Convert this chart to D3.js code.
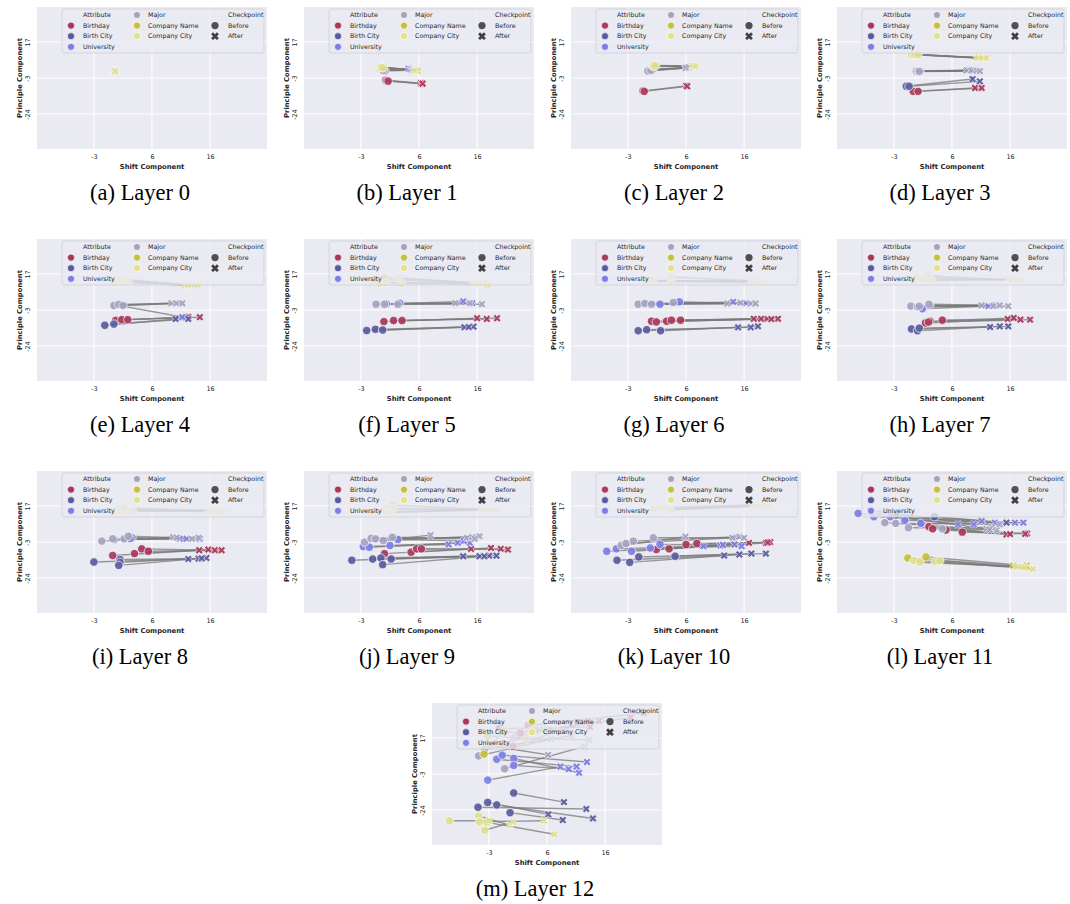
<!DOCTYPE html>
<html>
<head>
<meta charset="utf-8">
<script src="https://cdn.jsdelivr.net/npm/d3@7"></script>
<style>
body { margin: 0; background: #fff; }
svg text { font-family: "DejaVu Sans", sans-serif; fill: #262626; }
.caption { font-family: "Liberation Serif", "Times New Roman", serif; font-size: 22.5px; fill: #000; }
</style>
</head>
<body>
<svg id="fig" width="1070" height="904"></svg>
<script>

// categories
var attributes = ["Birthday", "Birth City", "University", "Major", "Company Name", "Company City"];
var checkpoints = ["Before", "After"];

// tick labels (the axis ticks sit at rounded-off values)
var xTickValues = [-3.2, 6.4, 16.0];
var xTickLabels = ["-3", "6", "16"];
var yTickValues = [17.2, -3.3, -23.8];
var yTickLabels = ["17", "-3", "-24"];
var xDomain = [-12.6, 25.4];
var yDomain = [-43.7, 37.1];

var captions = ["(a) Layer 0", "(b) Layer 1", "(c) Layer 2", "(d) Layer 3", "(e) Layer 4", "(f) Layer 5",
  "(g) Layer 6", "(h) Layer 7", "(i) Layer 8", "(j) Layer 9", "(k) Layer 10", "(l) Layer 11", "(m) Layer 12"];

// each row: attribute, before x, before y, after x, after y
var layer0 = [
  ["Birthday", 0.3, 0.5, 0.3, 0.5], ["Birth City", 0.3, 0.5, 0.3, 0.5], ["University", 0.3, 0.5, 0.3, 0.5],
  ["Major", 0.3, 0.5, 0.3, 0.5], ["Company Name", 0.3, 0.5, 0.3, 0.5], ["Company City", 0.3, 0.5, 0.3, 0.5]
];
var layer1 = [
  ["Birthday", 0.9, -4.6, 6.7, -6.3], ["Birthday", 1.1, -4.9, 6.9, -6.6], ["Birthday", 1.3, -5.1, 7.0, -6.5],
  ["Birth City", 0.3, 1.5, 5.0, 1.6],
  ["University", 0.1, 1.8, 4.7, 2.0], ["University", 0.4, 1.2, 5.0, 1.5],
  ["Major", 0.8, 0.6, 5.2, 1.4], ["Major", 0.5, 1.0, 5.5, 1.0],
  ["Company Name", 0.2, 2.8, 5.9, 1.1], ["Company Name", 0.5, 2.5, 6.1, 0.9],
  ["Company City", 0.0, 3.0, 5.8, 1.2], ["Company City", 0.3, 2.6, 5.6, 1.0]
];
var layer2 = [
  ["Birthday", -0.7, -10.7, 6.4, -7.8], ["Birthday", -0.5, -10.9, 6.6, -8.0],
  ["Birth City", 0.6, 1.5, 6.5, 2.6],
  ["University", 0.4, 1.2, 6.3, 2.4], ["University", 0.9, 1.6, 6.8, 2.9],
  ["Major", 0.1, 0.7, 6.4, 2.4], ["Major", 0.6, 1.0, 6.9, 2.7],
  ["Company Name", 1.0, 3.2, 7.4, 3.5], ["Company Name", 1.4, 3.6, 7.8, 3.3],
  ["Company City", 0.9, 3.5, 7.6, 3.5], ["Company City", 1.2, 3.8, 8.0, 3.6]
];
var layer3 = [
  ["Birthday", 0.0, -10.9, 10.2, -9.0], ["Birthday", 0.8, -10.9, 11.3, -9.0],
  ["Birth City", -1.15, -8.0, 9.8, -3.9], ["Birth City", -0.7, -8.0, 11.0, -5.2],
  ["University", 0.6, 0.7, 9.2, 1.2], ["University", 0.9, 0.5, 10.0, 1.0],
  ["Major", 0.5, 0.5, 8.8, 1.0], ["Major", 1.1, 0.5, 9.6, 1.0], ["Major", 0.8, 0.6, 10.5, 0.8], ["Major", 1.0, 0.4, 11.0, 0.6],
  ["Company Name", 0.0, 10.2, 10.8, 8.3], ["Company Name", 0.5, 10.1, 11.6, 8.0],
  ["Company City", -0.3, 10.0, 10.5, 8.1], ["Company City", 0.2, 10.0, 11.3, 8.1], ["Company City", 0.8, 10.0, 12.1, 8.1]
];
var layer4 = [
  ["Birthday", 0.4, -9.2, 12.4, -7.2], ["Birthday", 1.4, -8.8, 14.3, -7.4], ["Birthday", 2.4, -8.8, 12.0, -7.6],
  ["Birth City", -1.4, -12.0, 10.3, -8.4], ["Birth City", 0.1, -11.3, 12.4, -8.4],
  ["University", 0.4, -0.4, 11.4, -7.3],
  ["Major", 0.1, -0.7, 9.6, 0.5], ["Major", 0.9, -0.1, 10.4, 0.5], ["Major", 1.6, -0.7, 11.4, 0.5],
  ["Company Name", 1.2, 13.0, 12.5, 11.0],
  ["Company City", 0.3, 12.4, 11.8, 10.9], ["Company City", 1.5, 13.7, 12.9, 10.9],
  ["Company City", 2.4, 12.8, 14.0, 10.9], ["Company City", 1.0, 14.3, 12.4, 11.0]
];
var layer5 = [
  ["Birthday", 0.6, -9.9, 16.0, -8.0], ["Birthday", 2.2, -9.3, 17.6, -8.4], ["Birthday", 3.6, -9.3, 19.3, -8.0],
  ["Birth City", -2.25, -15.0, 13.9, -13.1], ["Birth City", -0.8, -14.3, 15.4, -12.8], ["Birth City", 0.4, -14.7, 14.6, -13.0],
  ["University", 1.0, 0.2, 13.7, 1.6], ["University", 3.2, 0.6, 15.2, 0.6],
  ["Major", -0.7, 0.0, 12.4, 0.6], ["Major", 0.7, 0.0, 14.8, 0.6], ["Major", 2.9, 0.0, 16.8, 0.0],
  ["Company Name", 0.7, 14.9, 17.1, 12.0], ["Company Name", -0.7, 14.0, 16.0, 12.2],
  ["Company City", -0.1, 12.0, 15.2, 12.0], ["Company City", 1.0, 12.4, 16.3, 12.0],
  ["Company City", 3.5, 12.0, 17.7, 11.1], ["Company City", 2.9, 14.9, 16.8, 12.0]
];
var layer6 = [
  ["Birthday", 0.7, -9.7, 17.6, -8.3], ["Birthday", 1.5, -10.1, 19.8, -8.3], ["Birthday", 3.2, -9.7, 21.6, -8.3],
  ["Birthday", 4.0, -9.1, 18.8, -8.3], ["Birthday", 5.5, -9.1, 20.5, -8.5],
  ["Birth City", -1.5, -15.1, 15.0, -13.2], ["Birth City", -0.1, -14.5, 17.1, -13.2], ["Birth City", 2.2, -15.1, 18.3, -12.6],
  ["University", 2.1, 0.0, 14.2, 1.35], ["University", 5.3, 1.35, 16.3, 0.6],
  ["Major", -1.5, 0.0, 13.2, 0.4], ["Major", -0.4, 0.4, 15.4, 0.8], ["Major", 0.7, 0.0, 17.1, 0.4], ["Major", 4.3, 1.0, 17.9, 0.4],
  ["Company Name", 0.5, 13.2, 18.0, 13.0],
  ["Company City", 0.0, 12.9, 17.1, 13.5], ["Company City", 0.9, 13.5, 18.2, 12.9],
  ["Company City", 4.0, 12.9, 19.4, 12.2], ["Company City", 3.8, 15.5, 17.6, 13.2]
];
var layer7 = [
  ["Birthday", 2.0, -10.7, 15.6, -8.4], ["Birthday", 2.75, -9.7, 16.6, -7.8], ["Birthday", 4.8, -9.1, 17.7, -8.8], ["Birthday", 2.5, -10.2, 19.3, -8.8],
  ["Birth City", -0.3, -14.1, 12.7, -13.0], ["Birth City", 0.7, -15.1, 14.3, -12.6], ["Birth City", 1.0, -13.6, 15.7, -12.6],
  ["University", 1.5, -2.6, 12.4, -1.1], ["University", 2.75, -0.7, 13.5, -0.7],
  ["Major", -0.4, -1.1, 11.3, -0.7], ["Major", 0.7, -1.5, 13.2, -1.1], ["Major", 2.6, 0.0, 14.3, -0.7], ["Major", 1.0, -1.2, 15.7, -1.1],
  ["Company City", 0.1, 13.4, 15.7, 14.3], ["Company City", 1.25, 14.3, 16.8, 13.9], ["Company City", 2.4, 16.2, 17.9, 13.4],
  ["Company City", 3.1, 13.4, 16.2, 14.1], ["Company City", 0.7, 15.3, 17.2, 13.6]
];
var layer8 = [
  ["Birthday", -0.1, -11.0, 14.2, -8.0], ["Birthday", 3.5, -9.9, 15.7, -7.6], ["Birthday", 4.7, -7.2, 16.8, -8.0], ["Birthday", 5.8, -8.6, 17.9, -8.0],
  ["Birth City", -3.2, -14.7, 12.4, -13.0], ["Birth City", 1.1, -13.3, 14.1, -12.8], ["Birth City", 1.1, -14.9, 15.4, -12.4], ["Birth City", 0.9, -16.6, 14.6, -12.6],
  ["University", 0.14, -1.9, 11.0, -1.5], ["University", 3.1, -0.9, 12.1, -1.5], ["University", 2.8, -1.3, 14.3, -1.5],
  ["Major", -1.9, -2.8, 9.9, -0.55], ["Major", -0.1, -1.5, 13.0, -1.5], ["Major", 1.8, -1.5, 14.1, -0.9], ["Major", 2.5, 0.0, 10.5, -0.8],
  ["Company Name", 1.0, 15.5, 16.6, 14.4],
  ["Company City", 0.14, 14.3, 15.7, 14.9], ["Company City", 1.25, 14.3, 17.1, 14.3], ["Company City", 2.36, 14.9, 18.2, 13.8],
  ["Company City", 3.2, 14.3, 16.4, 14.6], ["Company City", 1.8, 16.2, 17.6, 14.1]
];
var layer9 = [
  ["Birthday", 0.7, -9.9, 15.0, -7.2], ["Birthday", 5.1, -9.1, 18.3, -6.7], ["Birthday", 6.0, -7.2, 19.9, -7.2], ["Birthday", 6.8, -7.2, 21.1, -7.6],
  ["Birth City", -4.7, -13.7, 13.7, -11.4], ["Birth City", -1.25, -13.0, 16.4, -11.4], ["Birth City", 0.1, -12.4, 18.0, -11.1],
  ["Birth City", 1.8, -13.0, 19.2, -11.1], ["Birth City", 0.4, -16.2, 17.2, -11.4],
  ["University", -2.8, -5.9, 11.3, -4.7], ["University", -1.8, -6.3, 12.8, -3.8], ["University", 1.6, -5.3, 14.8, -3.8], ["University", 2.9, -1.9, 13.8, -2.6],
  ["Major", -2.6, -3.4, 8.3, 0.6], ["Major", -1.5, -1.2, 14.3, -0.9], ["Major", -0.8, -1.5, 15.2, -0.55],
  ["Major", 0.5, -2.5, 16.4, 0.0], ["Major", 2.0, -0.6, 15.6, -1.5],
  ["Company Name", 2.1, 17.6, 17.4, 15.2],
  ["Company City", -1.5, 13.8, 16.6, 15.3], ["Company City", 1.0, 15.7, 18.0, 14.9], ["Company City", 2.1, 15.7, 19.3, 14.9],
  ["Company City", 1.5, 13.4, 17.2, 15.1], ["Company City", 1.0, 13.4, 18.6, 15.0]
];
var layer10 = [
  ["Birthday", 1.5, -7.6, 16.8, -3.8], ["Birthday", 3.6, -7.2, 19.6, -3.8], ["Birthday", 6.4, -4.7, 20.3, -3.4], ["Birthday", 8.2, -4.1, 19.9, -3.6],
  ["Birth City", -5.0, -13.7, 12.7, -11.0], ["Birth City", -2.9, -14.9, 15.2, -10.4], ["Birth City", -1.4, -11.8, 17.2, -9.9], ["Birth City", 4.6, -11.4, 19.6, -9.9],
  ["University", -6.7, -8.6, 9.3, -5.7], ["University", -5.1, -7.2, 12.1, -5.3], ["University", -2.6, -8.6, 14.4, -4.7],
  ["University", 0.5, -6.7, 15.6, -5.7], ["University", 2.1, -4.7, 12.5, -5.0],
  ["Major", -4.3, -5.3, 6.3, -0.3], ["Major", -3.5, -4.1, 14.1, -0.9], ["Major", -2.3, -2.8, 15.2, -0.3], ["Major", 1.0, -0.9, 16.0, -0.9],
  ["Company City", -1.25, 14.3, 17.4, 17.2], ["Company City", 1.0, 15.3, 18.8, 17.2], ["Company City", 2.1, 16.2, 20.2, 18.1],
  ["Company City", 2.9, 15.7, 18.0, 17.4], ["Company City", 3.8, 14.9, 19.5, 17.6]
];
var layer11 = [
  ["Birthday", 2.6, 5.4, 15.4, 1.0], ["Birthday", 3.2, 4.2, 18.8, 1.5], ["Birthday", 5.4, 3.5, 16.0, 1.2], ["Birthday", 8.1, 2.3, 18.5, 1.3],
  ["Birth City", 3.5, 11.1, 15.4, 7.7], ["Birth City", -2.9, 12.0, 11.3, 8.8],
  ["University", -9.1, 13.0, 7.4, 6.7], ["University", -7.1, 14.9, 10.0, 6.7], ["University", -6.5, 11.1, 11.3, 8.6],
  ["University", -3.8, 11.1, 13.5, 7.7], ["University", -1.4, 9.0, 16.8, 7.7], ["University", 1.25, 7.3, 18.2, 7.7],
  ["Major", -5.7, 13.0, 12.1, 4.2], ["Major", -4.7, 7.7, 13.8, 3.5], ["Major", -2.9, 7.3, 14.3, 6.7],
  ["Major", -0.8, 4.8, 13.0, 5.0], ["Major", 4.8, 4.2, 12.6, 3.8],
  ["Company Name", -0.9, -12.4, 16.5, -16.8], ["Company Name", 2.1, -11.8, 18.7, -16.8],
  ["Company City", 0.1, -13.9, 17.0, -17.5], ["Company City", 1.1, -14.9, 17.9, -17.5],
  ["Company City", 3.6, -14.3, 19.8, -18.7], ["Company City", 4.4, -13.9, 18.4, -17.9]
];
var layer12 = [
  ["Birthday", 0.78, 12.4, 13.2, 26.8], ["Birthday", 1.45, 18.2, 15.0, 26.8], ["Birthday", -1.5, 22.5, 13.5, 23.4],
  ["Birthday", 2.0, 20.0, 20.2, 28.7], ["Birthday", 3.3, 24.3, 22.4, 31.4],
  ["Birth City", 0.9, -14.1, 9.2, -19.3], ["Birth City", -5.0, -22.2, 12.9, -23.2], ["Birth City", -3.4, -19.5, 6.6, -26.3],
  ["Birth City", -1.9, -20.9, 14.0, -28.6], ["Birth City", 0.3, -25.3, 9.0, -29.5],
  ["University", -3.4, -6.8, 8.6, 0.9], ["University", -1.9, 5.1, 11.3, 0.9], ["University", -1.0, 7.4, 13.0, 3.5],
  ["University", 0.9, 5.5, 11.7, -2.6], ["University", 0.9, 1.6, 10.0, -0.5],
  ["Major", -4.9, 7.0, 7.1, 16.6], ["Major", -3.9, 10.9, 10.5, 18.5], ["Major", -0.6, -0.3, 12.6, 12.4],
  ["Major", 0.8, 17.0, 13.4, 16.2], ["Major", -2.9, 12.8, 6.6, 7.6],
  ["Company Name", -4.0, 8.0, -0.6, 22.0], ["Company Name", -3.4, 18.5, 2.9, 16.6],
  ["Company Name", -1.15, 19.9, 5.8, 22.0], ["Company Name", 3.7, 21.0, 7.9, 21.4],
  ["Company City", -9.7, -29.9, -3.1, -29.9], ["Company City", -4.9, -27.2, 0.23, -32.4], ["Company City", -4.75, -30.5, 5.9, -29.9],
  ["Company City", -3.9, -35.3, 0.8, -30.5], ["Company City", -3.5, -30.8, 7.6, -37.6]
];
var layers = [layer0, layer1, layer2, layer3, layer4, layer5, layer6, layer7, layer8, layer9, layer10, layer11, layer12];

// styles
var attrColor = d3.scaleOrdinal()
  .domain(attributes)
  .range(["#a8395c", "#5a5b9f", "#7d7fe6", "#a6a3c3", "#c6c13b", "#e1e08f"]);
var plotW = 230, plotH = 142;
var colLeft = [37, 304, 571, 837];

var svg = d3.select("#fig");
svg.append("rect").attr("width", 1070).attr("height", 904).attr("fill", "#fff");

var x = d3.scaleLinear().domain(xDomain).range([0, plotW]);
var y = d3.scaleLinear().domain(yDomain).range([plotH, 0]);
var xMark = d3.symbol().type(d3.symbolCross).size(38);

function drawMarker(sel, kind, color, cx, cy, r) {
  if (kind === "Before") {
    sel.append("circle").attr("cx", cx).attr("cy", cy).attr("r", r)
      .attr("fill", color).attr("stroke", "#fff").attr("stroke-width", 0.7);
  } else {
    sel.append("path").attr("d", xMark)
      .attr("transform", "translate(" + cx + "," + cy + ") rotate(45)")
      .attr("fill", color).attr("stroke", "#fff").attr("stroke-width", 0.6);
  }
}

layers.forEach(function (data, i) {
  var left = i < 12 ? colLeft[i % 4] : 432;
  var top = 7 + Math.floor(i / 4) * 232;
  var g = svg.append("g").attr("transform", "translate(" + left + "," + top + ")");

  g.append("rect").attr("width", plotW).attr("height", plotH).attr("fill", "#eaeaf2");

  // grid
  g.selectAll(".gx").data(xTickValues).enter().append("line")
    .attr("x1", function (d) { return x(d); }).attr("x2", function (d) { return x(d); })
    .attr("y1", 0).attr("y2", plotH).attr("stroke", "#fff").attr("stroke-width", 1.1);
  g.selectAll(".gy").data(yTickValues).enter().append("line")
    .attr("y1", function (d) { return y(d); }).attr("y2", function (d) { return y(d); })
    .attr("x1", 0).attr("x2", plotW).attr("stroke", "#fff").attr("stroke-width", 1.1);

  // ticks via axes
  var xa = g.append("g").attr("transform", "translate(0," + plotH + ")")
    .call(d3.axisBottom(x).tickValues(xTickValues).tickSize(0).tickPadding(5)
      .tickFormat(function (d, k) { return xTickLabels[k]; }));
  xa.select(".domain").remove();
  xa.selectAll("text").attr("font-size", 6.5).style("font-family", "DejaVu Sans");

  var ya = g.append("g")
    .call(d3.axisLeft(y).tickValues(yTickValues).tickSize(0).tickPadding(0)
      .tickFormat(function (d, k) { return yTickLabels[k]; }));
  ya.select(".domain").remove();
  ya.selectAll("text").attr("font-size", 6.5).style("font-family", "DejaVu Sans")
    .attr("x", null).attr("dy", null)
    .attr("text-anchor", "middle")
    .attr("transform", "translate(-7,0) rotate(-90)");

  // lines from before to after
  g.append("g").selectAll("line").data(data).enter().append("line")
    .attr("x1", function (d) { return x(d[1]); }).attr("y1", function (d) { return y(d[2]); })
    .attr("x2", function (d) { return x(d[3]); }).attr("y2", function (d) { return y(d[4]); })
    .attr("stroke", "#7a7a7a").attr("stroke-width", 1.4).attr("stroke-opacity", 0.75);

  // markers
  var mg = g.append("g").attr("opacity", 0.92);
  data.forEach(function (d) {
    drawMarker(mg, "Before", attrColor(d[0]), x(d[1]), y(d[2]), 4.2);
  });
  data.forEach(function (d) {
    drawMarker(mg, "After", attrColor(d[0]), x(d[3]), y(d[4]));
  });

  // legend
  var lg = g.append("g");
  lg.append("rect").attr("x", 25).attr("y", 2).attr("width", 202).attr("height", 44).attr("rx", 2)
    .attr("fill", "#eaeaf2").attr("fill-opacity", 0.8).attr("stroke", "#cfcfd6").attr("stroke-width", 0.8);
  var rowY = function (k) { return 8 + k * 10.6; };
  var items = [
    { col: 0, row: 0, label: "Attribute" },
    { col: 0, row: 1, label: attributes[0], attr: attributes[0] },
    { col: 0, row: 2, label: attributes[1], attr: attributes[1] },
    { col: 0, row: 3, label: attributes[2], attr: attributes[2] },
    { col: 1, row: 0, label: attributes[3], attr: attributes[3] },
    { col: 1, row: 1, label: attributes[4], attr: attributes[4] },
    { col: 1, row: 2, label: attributes[5], attr: attributes[5] },
    { col: 2, row: 0, label: "Checkpoint" },
    { col: 2, row: 1, label: checkpoints[0], cp: checkpoints[0] },
    { col: 2, row: 2, label: checkpoints[1], cp: checkpoints[1] }
  ];
  var markX = [34, 100, 178], textX = [46, 111, 191];
  items.forEach(function (it) {
    var cy = rowY(it.row);
    if (it.attr) drawMarker(lg, "Before", attrColor(it.attr), markX[it.col], cy, 3.6);
    if (it.cp === "Before") lg.append("circle").attr("cx", markX[it.col]).attr("cy", cy).attr("r", 3.6).attr("fill", "#505050");
    if (it.cp === "After") lg.append("path").attr("d", xMark)
      .attr("transform", "translate(" + markX[it.col] + "," + cy + ") rotate(45)").attr("fill", "#404040");
    lg.append("text").attr("x", textX[it.col]).attr("y", cy).attr("dy", "0.35em")
      .attr("font-size", 6.3).text(it.label);
  });

  // axis labels
  g.append("text").attr("x", plotW / 2).attr("y", plotH + 20).attr("text-anchor", "middle")
    .attr("font-size", 6.8).attr("font-weight", "bold").text("Shift Component");
  g.append("text").attr("transform", "translate(-15," + plotH / 2 + ") rotate(-90)")
    .attr("text-anchor", "middle").attr("font-size", 6.8).attr("font-weight", "bold")
    .text("Principle Component");

  // caption
  g.append("text").attr("class", "caption").attr("x", 103).attr("y", 193)
    .attr("text-anchor", "middle").text(captions[i]);
});

</script>
</body>
</html>
